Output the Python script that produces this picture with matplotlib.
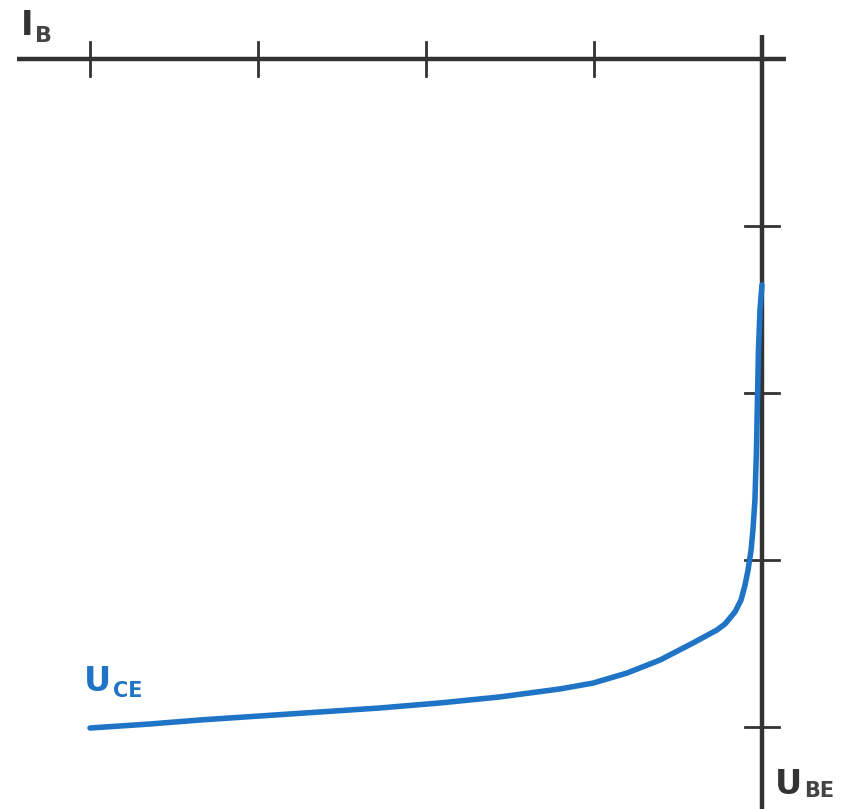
import matplotlib
matplotlib.use("Agg")
import matplotlib.pyplot as plt

# input characteristic, axes in tick units (origin at top right corner)
ube = [-4.0, -3.643, -3.345, -2.988, -2.631, -2.274, -1.917, -1.560, -1.202,
       -1.006, -0.804, -0.607, -0.411, -0.268, -0.220, -0.161, -0.125, -0.101,
       -0.083, -0.065, -0.054, -0.042, -0.033, -0.027, -0.021, -0.012, 0.0]
ib = [4.006, 3.982, 3.958, 3.934, 3.910, 3.886, 3.856, 3.820, 3.772,
      3.737, 3.677, 3.599, 3.497, 3.419, 3.383, 3.311, 3.240, 3.150,
      3.060, 2.940, 2.820, 2.641, 2.341, 2.042, 1.743, 1.503, 1.353]
x_ticks = [-4, -3, -2, -1]
y_ticks = [1, 2, 3, 4]

axis_col = "#333333"
blue = "#1f74c6"
px_x = 1 / 168.0
px_y = 1 / 167.0

fig = plt.figure(figsize=(8.59, 8.09), dpi=100)
ax = fig.add_axes([0, 0, 1, 1])
ax.set_xlim(-762 * px_x, 97 * px_x)
ax.set_ylim(750 * px_y, -59 * px_y)
ax.axis("off")

# axes
ax.plot([-745 * px_x, 24 * px_x], [0, 0], color=axis_col, lw=3.2, solid_capstyle="butt", zorder=2)
ax.plot([0, 0], [-24 * px_y, 760 * px_y], color=axis_col, lw=3.2, solid_capstyle="butt", zorder=2)
for t in x_ticks:
    ax.plot([t, t], [-17 * px_y, 17 * px_y], color=axis_col, lw=2, zorder=2)
for t in y_ticks:
    ax.plot([-17 * px_x, 17 * px_x], [t, t], color=axis_col, lw=2, zorder=2)

ax.plot(ube, ib, color=blue, lw=4, solid_capstyle="round", solid_joinstyle="round", zorder=3)

font = dict(family="DejaVu Sans", weight="bold", va="baseline", ha="left")
ax.text(-741 * px_x, -24 * px_y, "I", fontsize=24, color=axis_col, **font)
ax.text(-727 * px_x, -17 * px_y, "B", fontsize=16, color="#444444", **font)
ax.text(13 * px_x, 735 * px_y, "U", fontsize=24, color=axis_col, **font)
ax.text(42 * px_x, 738 * px_y, "BE", fontsize=15, color="#444444", **font)
ax.text(-678 * px_x, 632 * px_y, "U", fontsize=24, color=blue, **font)
ax.text(-649 * px_x, 638 * px_y, "CE", fontsize=15, color=blue, **font)

fig.savefig("out.png", dpi=100)
